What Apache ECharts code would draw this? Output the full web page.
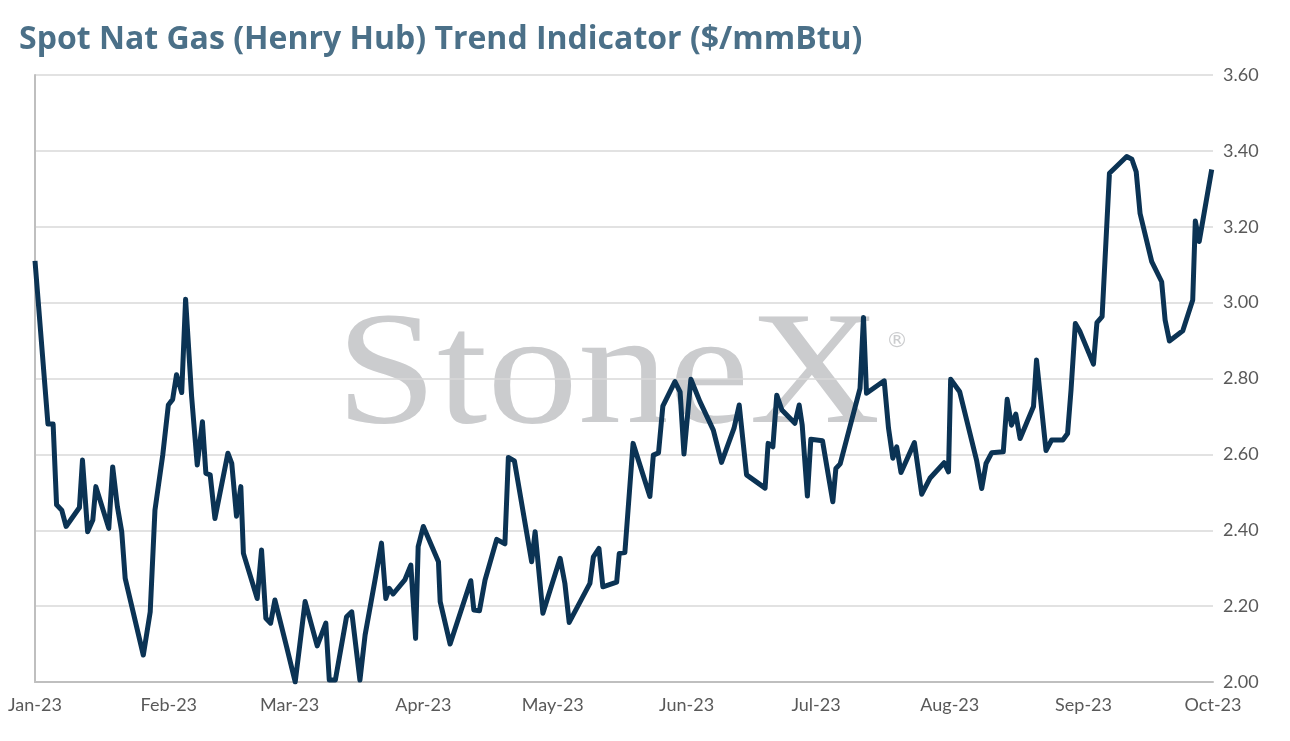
<!DOCTYPE html>
<html><head><meta charset="utf-8">
<script src="https://cdn.jsdelivr.net/npm/echarts@6/dist/echarts.min.js"></script>
<style>html,body{margin:0;padding:0;background:#fff}#c{width:1290px;height:741px}</style>
</head><body><div id="c"></div>
<script>
// day offset from 1-Jan-2023
const days = [0,3,4.2,5,6.2,7.2,10.3,11,12.2,13.4,14.1,17.1,18,19.1,20.1,20.9,25.1,26.7,27.8,29.6,30.9,31.9,32.8,34,34.9,36.3,37.6,38.8,39.6,40.6,41.7,44.7,45.6,46.7,47.7,48.3,51.5,52.5,53.5,54.6,55.6,58.3,60.3,62.6,65.4,67.4,68.2,69.6,72.2,73.4,75.3,76.5,78.8,80.3,81.3,82.1,83,85.7,87.1,88.2,88.8,90,93.5,93.9,96.2,101,101.7,103,104.3,107,108.9,109.7,111.1,115.1,115.9,117.7,121.7,122.8,123.8,128.6,129.4,130.7,131.6,134.8,135.4,136.7,138.6,142.5,143.3,144.5,145.5,148.3,149.5,150.4,152,154.1,157.2,159.1,162,163.2,164.9,169.2,169.9,171,171.9,173.1,176.1,177.1,177.8,179,179.8,182.5,184.9,185.6,186.6,191.2,192,192.7,196.8,197.8,198.8,199.7,200.7,203.8,205.5,207.4,210.7,211.7,212.2,214.3,218.2,219.4,220.4,221.7,224.4,225.3,226.3,227.3,228.3,231.4,232.1,234.3,235.6,238.2,239.3,240.1,241.1,242.2,245.3,246.1,247.3,249,253,254.2,255.2,256.1,258.8,261.1,261.9,262.9,266,268.3,268.9,269.8,272.7];
const prices = [3.11,2.68,2.68,2.467,2.453,2.41,2.46,2.585,2.396,2.427,2.515,2.405,2.567,2.462,2.396,2.273,2.071,2.185,2.453,2.598,2.73,2.745,2.81,2.763,3.009,2.752,2.572,2.686,2.55,2.546,2.431,2.603,2.576,2.437,2.515,2.339,2.22,2.348,2.168,2.155,2.216,2.093,2.0,2.212,2.095,2.155,2.005,2.005,2.172,2.185,2.005,2.124,2.269,2.366,2.22,2.247,2.232,2.269,2.308,2.115,2.357,2.41,2.317,2.212,2.1,2.267,2.19,2.188,2.269,2.376,2.364,2.592,2.583,2.317,2.396,2.181,2.326,2.26,2.157,2.26,2.33,2.352,2.251,2.263,2.339,2.341,2.629,2.489,2.598,2.604,2.727,2.792,2.765,2.601,2.798,2.739,2.664,2.579,2.669,2.73,2.546,2.511,2.629,2.62,2.756,2.717,2.682,2.73,2.677,2.49,2.64,2.636,2.475,2.563,2.575,2.774,2.961,2.761,2.794,2.669,2.59,2.62,2.552,2.631,2.495,2.537,2.578,2.554,2.798,2.765,2.585,2.51,2.576,2.604,2.607,2.745,2.677,2.706,2.642,2.726,2.849,2.61,2.638,2.638,2.655,2.77,2.945,2.923,2.838,2.947,2.963,3.341,3.385,3.378,3.345,3.235,3.108,3.055,2.954,2.899,2.926,3.007,3.215,3.161,3.351];
const monthDays = [0,31,59,90,120,151,181,212,243,273];
const monthLabels = ['Jan-23','Feb-23','Mar-23','Apr-23','May-23','Jun-23','Jul-23','Aug-23','Sep-23','Oct-23'];
const yTicks = [2.0,2.2,2.4,2.6,2.8,3.0,3.2,3.4,3.6];

const chart = echarts.init(document.getElementById('c'));
chart.setOption({
  animation:false,
  title:{text:'Spot Nat Gas (Henry Hub) Trend Indicator ($/mmBtu)',left:14,top:19,
    textStyle:{color:'#4b7088',fontSize:32,fontWeight:'bold',fontFamily:'Open Sans'}},
  graphic:[{type:'text',x:336,y:298,scaleX:1.12,z:0,
    style:{text:'StoneX',font:'normal 162px "Liberation Serif"',fill:'#cbccce'}},
    {type:'text',left:886,top:330,z:0,style:{text:'®',font:'22px "DejaVu Sans"',fill:'#cbccce'}}],
  grid:{left:35,right:77,top:75,bottom:59,show:true,borderColor:'#bfbfbf',borderWidth:0},
  xAxis:{type:'value',min:0,max:273,
    axisLine:{show:true,lineStyle:{color:'#bfbfbf',width:2}},
    axisTick:{show:false},splitLine:{show:false},
    axisLabel:{customValues:monthDays,color:'#595959',fontSize:18,fontFamily:'Lato',margin:14,
      formatter:v=>{const i=monthDays.indexOf(Math.round(v));return i>=0?monthLabels[i]:'';}}},
  yAxis:{type:'value',position:'right',min:2,max:3.6,interval:0.2,
    axisLine:{show:true,lineStyle:{color:'#bfbfbf',width:2}},axisTick:{show:false},
    splitLine:{lineStyle:{color:'#d9d9d9',width:1.5}},
    axisLabel:{color:'#595959',fontSize:18,fontFamily:'Lato',margin:10,formatter:v=>v.toFixed(2)}},
  series:[{type:'line',data:days.map((d,i)=>[d,prices[i]]),showSymbol:false,z:5,
    lineStyle:{color:'#0b3354',width:5,join:'round'}},
   {type:'line',data:[[0,2],[0,3.6]],showSymbol:false,silent:true,lineStyle:{color:'#bfbfbf',width:2},z:1}]
});
</script></body></html>
